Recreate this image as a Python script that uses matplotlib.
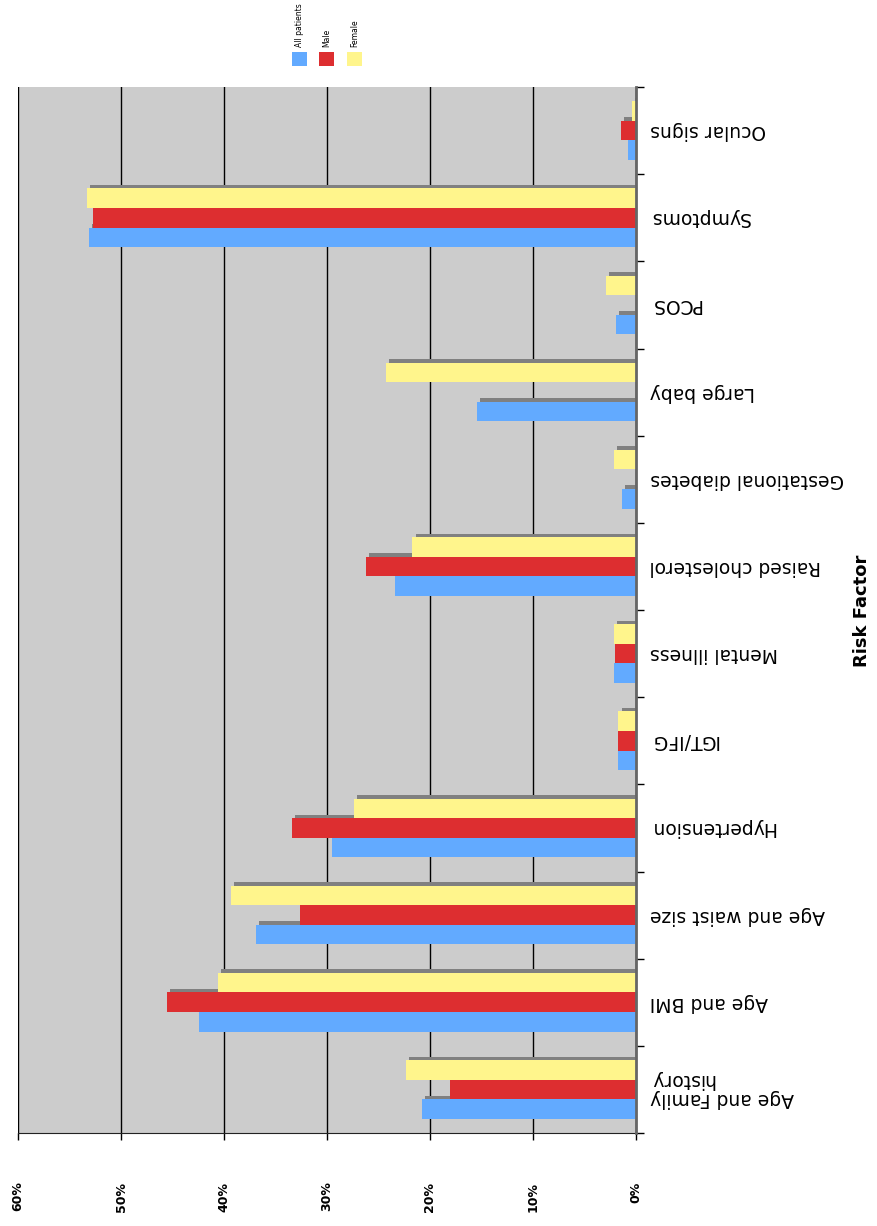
import matplotlib
matplotlib.use("Agg")
import matplotlib.pyplot as plt
import matplotlib.patheffects as pe
from matplotlib.patches import Rectangle
import numpy as np

categories = ["Age and Family\nhistory", "Age and BMI", "Age and waist size",
              "Hypertension", "IGT/IFG", "Mental illness", "Raised cholesterol",
              "Gestational diabetes", "Large baby", "PCOS", "Symptoms", "Ocular signs"]
series_names = ["All patients", "Male", "Female"]
all_vals = [20.8, 42.4, 36.9, 29.5, 1.7, 2.1, 23.4, 1.4, 15.4, 1.9, 53.1, 0.8]
male_vals = [18.1, 45.5, 32.6, 33.4, 1.7, 2.0, 26.2, 0.0, 0.0, 0.0, 52.7, 1.5]
female_vals = [22.3, 40.6, 39.3, 27.4, 1.7, 2.1, 21.7, 2.1, 24.3, 2.9, 53.3, 0.4]
x_ticks = [0, 10, 20, 30, 40, 50, 60]
x_tick_labels = ["0%", "10%", "20%", "30%", "40%", "50%", "60%"]
colors = ["#62AAFF", "#DD2E30", "#FFF58C"]

W, H = 878, 1226
fig = plt.figure(figsize=(W / 100, H / 100), dpi=100)
ax = fig.add_axes([18 / W, (H - 1133) / H, (636 - 18) / W, (1133 - 87) / H])
ax.set_facecolor("#CCCCCC")

y = np.arange(len(categories))
bw = 0.224
shadow = [pe.SimplePatchShadow(offset=(2.2, 2.6), shadow_rgbFace="#808080", alpha=1.0), pe.Normal()]
for i, (vals, c) in enumerate(zip([all_vals, male_vals, female_vals], colors)):
    bars = ax.barh(y + (i - 1) * bw, vals, height=bw, color=c, linewidth=0, zorder=3)
    for b in bars:
        if b.get_width() > 0:
            b.set_path_effects(shadow)

ax.set_xlim(60, 0)
ax.set_ylim(-0.5, len(categories) - 0.5)
ax.set_xticks(x_ticks)
ax.set_xticklabels(x_tick_labels, rotation=90, fontsize=9, fontweight="bold", va="top")
ax.tick_params(axis="x", direction="out", length=5, width=1, pad=30, colors="black")
ax.grid(axis="x", color="black", linewidth=1, zorder=1)
ax.set_axisbelow(True)

ax.yaxis.tick_right()
ax.set_yticks(y)
ax.set_yticklabels(categories, rotation=180, fontsize=13.5, ha="left", va="center",
                   multialignment="right", linespacing=1.0)
ax.set_yticks(np.arange(-0.5, len(categories)), minor=True)
ax.tick_params(axis="y", which="major", length=0, pad=10)
ax.tick_params(axis="y", which="minor", direction="out", length=6, width=1, color="black")

for s in ["top", "left"]:
    ax.spines[s].set_visible(False)
ax.spines["right"].set_color("#666666")
ax.spines["right"].set_linewidth(2)
ax.spines["right"].set_zorder(4)
ax.spines["bottom"].set_color("#222222")

fig.text(862 / W, 1 - 611 / H, "Risk Factor", rotation=90, fontsize=13,
         fontweight="bold", ha="center", va="center")

# legend
for k, (name, c) in enumerate(zip(series_names, colors)):
    x0 = 292 + k * 27.5
    fig.add_artist(Rectangle((x0 / W, 1 - 66 / H), 15 / W, 14 / H,
                             transform=fig.transFigure, color=c, linewidth=0))
    fig.text((x0 + 7.5) / W, 1 - 47 / H, name, rotation=90, fontsize=5.5,
             ha="center", va="bottom")

fig.savefig("out.png", dpi=100)
